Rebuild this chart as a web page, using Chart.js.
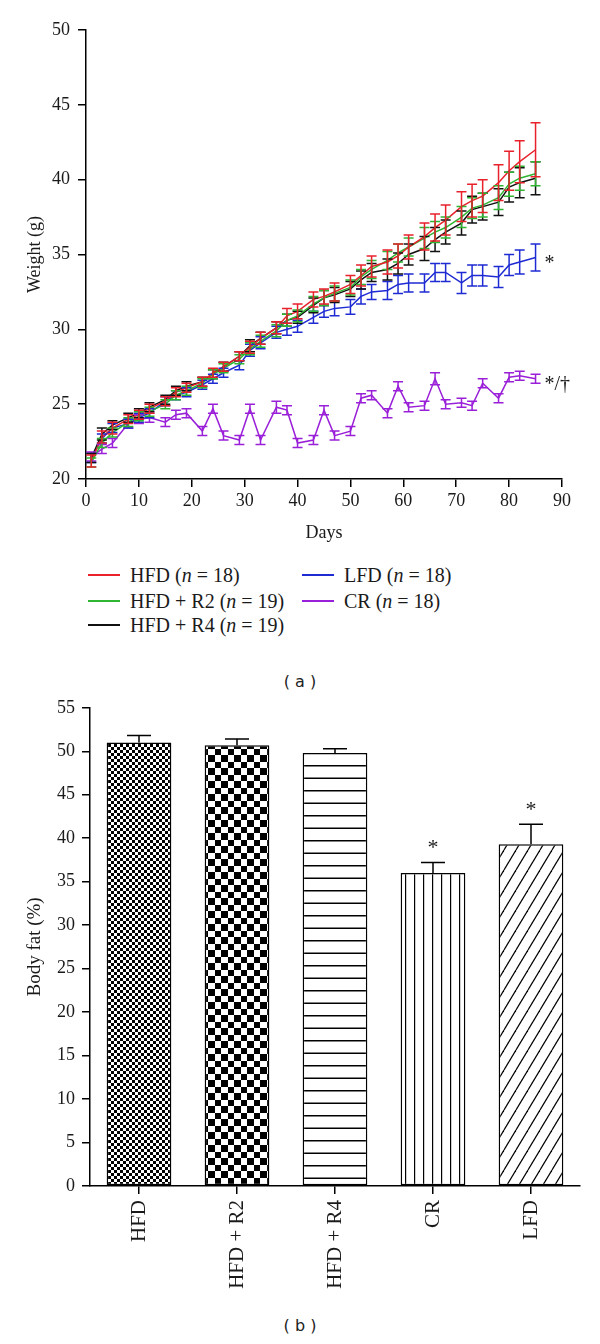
<!DOCTYPE html>
<html>
<head>
<meta charset="utf-8">
<script src="https://cdn.jsdelivr.net/npm/chart.js@4.4.1/dist/chart.umd.min.js"></script>
<style>
  body { margin: 0; background: #fff; }
  #page { position: relative; width: 600px; height: 1344px; overflow: hidden; }
  canvas { position: absolute; left: 0; }
  #weightChart { top: 0; }
  #fatChart { top: 690px; }
  .key { position: absolute; height: 24px; white-space: nowrap; font: 20px "Liberation Serif", serif; color: #1a1a1a; }
  .key .swatch { position: absolute; left: 0; top: 11px; width: 32px; height: 2px; }
  .key .lbl { position: absolute; left: 42px; top: 0; line-height: 24px; }
  .caption { position: absolute; left: 0; width: 600px; text-align: center; font: 16px "DejaVu Sans", sans-serif; color: #222; }
</style>
</head>
<body>
<div id="page">
  <canvas id="weightChart" width="600" height="560"></canvas>
  <div id="legend"></div>
  <div class="caption" style="top: 672px;">( a )</div>
  <canvas id="fatChart" width="600" height="620"></canvas>
  <div class="caption" style="top: 1316px;">( b )</div>
</div>
<script>
// (a) body weight over time
const days = [1, 3, 5, 8, 10, 12, 15, 17, 19, 22, 24, 26, 29, 31, 33, 36, 38, 40, 43, 45, 47,
              50, 52, 54, 57, 59, 61, 64, 66, 68, 71, 73, 75, 78, 80, 82, 85];

const hfd   = [21.2, 22.8, 23.4, 24.0, 24.3, 24.7, 25.2, 25.8, 26.1, 26.5, 27.1, 27.5, 28.2, 28.8, 29.4, 30.1, 30.9, 31.2, 32.0, 32.2, 32.5,
               33.0, 33.6, 34.2, 34.5, 34.9, 35.5, 36.2, 36.8, 37.3, 38.2, 38.6, 38.9, 39.8, 40.6, 41.2, 42.0];
const hfdR2 = [21.1, 22.4, 23.1, 23.8, 24.2, 24.5, 25.0, 25.6, 25.9, 26.4, 27.0, 27.4, 28.0, 28.7, 29.2, 29.9, 30.6, 30.9, 31.7, 32.1, 32.4,
               32.8, 33.5, 34.0, 34.6, 35.1, 35.5, 36.1, 36.5, 36.8, 37.5, 38.1, 38.3, 38.8, 39.7, 40.1, 40.4];
const hfdR4 = [21.4, 23.0, 23.6, 24.1, 24.4, 24.8, 25.3, 25.9, 26.2, 26.5, 27.0, 27.5, 28.2, 28.9, 29.4, 30.1, 30.6, 30.8, 31.6, 32.1, 32.3,
               32.7, 33.3, 33.8, 34.0, 34.4, 35.0, 35.4, 36.0, 36.5, 37.1, 38.0, 38.2, 38.5, 39.5, 39.8, 40.1];
const lfd   = [21.4, 22.7, 23.4, 23.7, 24.1, 24.4, 25.2, 25.6, 25.8, 26.3, 26.7, 27.1, 27.6, 28.6, 29.1, 29.8, 30.0, 30.2, 30.8, 31.2, 31.4,
               31.5, 32.2, 32.5, 32.6, 33.0, 33.1, 33.1, 33.8, 33.8, 33.1, 33.6, 33.6, 33.5, 34.3, 34.5, 34.8];
const cr    = [21.5, 22.0, 22.4, 23.7, 24.0, 24.1, 23.8, 24.3, 24.4, 23.2, 24.7, 22.9, 22.6, 24.7, 22.6, 24.8, 24.6, 22.4, 22.6, 24.6, 22.9,
               23.2, 25.4, 25.6, 24.4, 26.2, 24.8, 24.9, 26.7, 25.0, 25.1, 24.9, 26.4, 25.4, 26.8, 26.9, 26.7];

// SEM for each point
const hfdErr   = [0.4, 0.4, 0.4, 0.3, 0.3, 0.3, 0.3, 0.3, 0.3, 0.3, 0.3, 0.3, 0.3, 0.4, 0.4, 0.4, 0.5, 0.5, 0.5, 0.5, 0.6,
                  0.6, 0.7, 0.7, 0.8, 0.8, 0.8, 0.9, 0.9, 1.0, 1.0, 1.1, 1.1, 1.2, 1.3, 1.4, 1.8];
const hfdR2Err = [0.3, 0.3, 0.3, 0.3, 0.3, 0.3, 0.3, 0.3, 0.3, 0.3, 0.3, 0.3, 0.3, 0.4, 0.4, 0.4, 0.4, 0.4, 0.5, 0.5, 0.5,
                  0.5, 0.5, 0.6, 0.6, 0.6, 0.6, 0.7, 0.7, 0.7, 0.7, 0.7, 0.8, 0.8, 0.8, 0.8, 0.8];
const hfdR4Err = [0.3, 0.4, 0.3, 0.3, 0.3, 0.3, 0.3, 0.3, 0.3, 0.3, 0.3, 0.3, 0.3, 0.4, 0.4, 0.4, 0.4, 0.4, 0.5, 0.5, 0.5,
                  0.5, 0.6, 0.6, 0.7, 0.7, 0.7, 0.8, 0.8, 0.8, 0.8, 0.9, 0.9, 0.9, 1.0, 1.0, 1.1];
const lfdErr   = [0.3, 0.3, 0.3, 0.3, 0.3, 0.3, 0.3, 0.3, 0.3, 0.3, 0.3, 0.3, 0.3, 0.4, 0.4, 0.4, 0.4, 0.4, 0.4, 0.4, 0.5,
                  0.5, 0.5, 0.5, 0.6, 0.6, 0.6, 0.6, 0.6, 0.6, 0.7, 0.7, 0.7, 0.7, 0.7, 0.8, 0.9];
const crErr    = [0.3, 0.3, 0.3, 0.3, 0.3, 0.3, 0.3, 0.3, 0.3, 0.3, 0.3, 0.3, 0.3, 0.3, 0.3, 0.4, 0.3, 0.3, 0.3, 0.3, 0.3,
                  0.3, 0.3, 0.3, 0.3, 0.3, 0.3, 0.3, 0.4, 0.3, 0.3, 0.3, 0.3, 0.3, 0.3, 0.3, 0.3];

const seriesNames = ["HFD", "HFD + R2", "HFD + R4", "LFD", "CR"];
const seriesN = [18, 19, 19, 18, 18];
const seriesMarks = ["", "", "", "*", "*/\u2020"];
const dayTicks = [0, 10, 20, 30, 40, 50, 60, 70, 80, 90];
const weightTicks = [20, 25, 30, 35, 40, 45, 50];

// (b) body fat
const groups = ["HFD", "HFD + R2", "HFD + R4", "CR", "LFD"];
const bodyFat = [51.0, 50.7, 49.8, 36.0, 39.3];
const bodyFatErr = [0.8, 0.7, 0.5, 1.2, 2.3];
const bodyFatMarks = ["", "", "", "*", "*"];
const fatTicks = [0, 5, 10, 15, 20, 25, 30, 35, 40, 45, 50, 55];

const serif = "'Liberation Serif', 'Times New Roman', serif";
const ink = "#1a1a1a";
const lineColors = ["#e8212b", "#2fb532", "#111111", "#1e2bd3", "#9a1fd8"];
const allValues = [hfd, hfdR2, hfdR4, lfd, cr];
const allErrs = [hfdErr, hfdR2Err, hfdR4Err, lfdErr, crErr];

// legend for (a), two columns like the original
const legendSpots = [[88, 563], [88, 589], [88, 613], [302, 563], [302, 589]];
const legend = document.getElementById("legend");
seriesNames.forEach((name, i) => {
    const item = document.createElement("div");
    item.className = "key";
    item.style.left = legendSpots[i][0] + "px";
    item.style.top = legendSpots[i][1] + "px";
    item.innerHTML = `<span class="swatch" style="background-color:${lineColors[i]}"></span>` +
        `<span class="lbl">${name} (<i>n</i> = ${seriesN[i]})</span>`;
    legend.appendChild(item);
});

const weightErrors = {
    id: "weightErrors",
    afterDatasetsDraw(chart) {
        const { ctx, scales: { x, y } } = chart;
        ctx.save();
        ctx.lineWidth = 1.5;
        for (let i = chart.data.datasets.length - 1; i >= 0; i--) {
            const ds = chart.data.datasets[i];
            ctx.strokeStyle = ds.borderColor;
            ds.data.forEach((p, j) => {
                const px = x.getPixelForValue(p.x);
                const top = y.getPixelForValue(p.y + ds.err[j]);
                const bot = y.getPixelForValue(p.y - ds.err[j]);
                ctx.beginPath();
                ctx.moveTo(px, top); ctx.lineTo(px, bot);
                ctx.moveTo(px - 5, top); ctx.lineTo(px + 5, top);
                ctx.moveTo(px - 5, bot); ctx.lineTo(px + 5, bot);
                ctx.stroke();
            });
        }
        // significance marks next to the last point
        ctx.fillStyle = ink;
        ctx.font = "20px " + serif;
        ctx.textAlign = "left";
        ctx.textBaseline = "middle";
        chart.data.datasets.forEach((ds, i) => {
            if (!seriesMarks[i]) return;
            const last = ds.data[ds.data.length - 1];
            ctx.fillText(seriesMarks[i], x.getPixelForValue(last.x) + 9, y.getPixelForValue(last.y) + 6);
        });
        ctx.restore();
    }
};

new Chart(document.getElementById("weightChart"), {
    type: "line",
    data: {
        datasets: seriesNames.map((name, i) => ({
            label: name,
            data: days.map((d, j) => ({ x: d, y: allValues[i][j] })),
            err: allErrs[i],
            borderColor: lineColors[i],
            backgroundColor: lineColors[i],
            borderWidth: 1.5,
            pointRadius: 0,
            tension: 0,
            fill: false,
        })),
    },
    options: {
        responsive: false,
        animation: false,
        devicePixelRatio: 1,
        layout: { padding: { top: 30, right: 38, left: 0, bottom: 0 } },
        plugins: { legend: { display: false }, tooltip: { enabled: false } },
        scales: {
            x: {
                type: "linear",
                min: 0,
                max: 90,
                afterBuildTicks: (s) => { s.ticks = dayTicks.map((v) => ({ value: v })); },
                afterFit: (s) => { s.height = 81; },
                ticks: { color: ink, padding: 3, font: { family: serif, size: 18 } },
                grid: { drawOnChartArea: false, color: "#000", tickLength: 8, lineWidth: 1.5 },
                border: { color: "#000", width: 1.5 },
                title: { display: true, text: "Days", color: ink, font: { family: serif, size: 18 }, padding: { bottom: 16 } },
            },
            y: {
                min: 20,
                max: 50,
                afterBuildTicks: (s) => { s.ticks = weightTicks.map((v) => ({ value: v })); },
                afterFit: (s) => { s.width = 86; },
                ticks: { color: ink, padding: 8, font: { family: serif, size: 18 } },
                grid: { drawOnChartArea: false, color: "#000", tickLength: 8, lineWidth: 1.5 },
                border: { color: "#000", width: 1.5 },
                title: { display: true, text: "Weight (g)", color: ink, font: { family: serif, size: 18 }, padding: { top: 24 } },
            },
        },
    },
    plugins: [weightErrors],
});

// fill patterns for the bars
function makePattern(kind) {
    const c = document.createElement("canvas");
    const g = c.getContext("2d");
    if (kind === "fineChecker") {
        c.width = c.height = 6;
        g.fillStyle = "#fff"; g.fillRect(0, 0, 6, 6);
        g.fillStyle = "#000"; g.fillRect(0, 0, 3, 3); g.fillRect(3, 3, 3, 3);
    } else if (kind === "checker") {
        c.width = c.height = 13;
        g.fillStyle = "#fff"; g.fillRect(0, 0, 13, 13);
        g.fillStyle = "#000"; g.fillRect(0, 0, 7, 7); g.fillRect(7, 7, 6, 6);
    } else if (kind === "hlines") {
        c.width = 4; c.height = 25;
        g.fillStyle = "#fff"; g.fillRect(0, 0, 4, 25);
        g.fillStyle = "#000"; g.fillRect(0, 0, 4, 1.5); g.fillRect(0, 12.5, 4, 1.5);
    } else if (kind === "vlines") {
        c.width = 9; c.height = 4;
        g.fillStyle = "#fff"; g.fillRect(0, 0, 9, 4);
        g.fillStyle = "#000"; g.fillRect(0, 0, 1.2, 4);
    } else {
        const w = 12, h = 20;
        c.width = w; c.height = h;
        g.fillStyle = "#fff"; g.fillRect(0, 0, w, h);
        g.strokeStyle = "#000"; g.lineWidth = 1.2;
        [-w, 0, w].forEach((o) => {
            g.beginPath(); g.moveTo(o, h); g.lineTo(o + w, 0); g.stroke();
        });
    }
    const ctx = document.getElementById("fatChart").getContext("2d");
    return ctx.createPattern(c, "repeat");
}
const barFills = ["fineChecker", "checker", "hlines", "vlines", "diagonal"].map(makePattern);

const fatErrors = {
    id: "fatErrors",
    afterDatasetsDraw(chart) {
        const { ctx, scales: { x, y } } = chart;
        const ds = chart.data.datasets[0];
        ctx.save();
        ctx.strokeStyle = "#000";
        ctx.lineWidth = 1.5;
        ds.data.forEach((v, i) => {
            const px = x.getPixelForValue(i);
            const top = y.getPixelForValue(v + ds.err[i]);
            ctx.beginPath();
            ctx.moveTo(px, y.getPixelForValue(v)); ctx.lineTo(px, top);
            ctx.moveTo(px - 12, top); ctx.lineTo(px + 12, top);
            ctx.stroke();
            if (bodyFatMarks[i]) {
                ctx.fillStyle = ink;
                ctx.font = "22px " + serif;
                ctx.textAlign = "center";
                ctx.textBaseline = "middle";
                ctx.fillText(bodyFatMarks[i], px, top - 14);
            }
        });
        ctx.restore();
    }
};

new Chart(document.getElementById("fatChart"), {
    type: "bar",
    data: {
        labels: groups,
        datasets: [{
            data: bodyFat,
            err: bodyFatErr,
            backgroundColor: barFills,
            borderColor: "#000",
            borderWidth: 1.5,
            borderSkipped: false,
            barPercentage: 0.66,
            categoryPercentage: 1,
        }],
    },
    options: {
        responsive: false,
        animation: false,
        devicePixelRatio: 1,
        layout: { padding: { top: 10, right: 20, left: 0, bottom: 0 } },
        plugins: { legend: { display: false }, tooltip: { enabled: false } },
        scales: {
            x: {
                afterFit: (s) => { s.height = 124; },
                ticks: { color: ink, padding: 6, minRotation: 90, maxRotation: 90, font: { family: serif, size: 21 } },
                grid: { drawOnChartArea: false, offset: false, color: "#000", tickLength: 8, lineWidth: 1.5 },
                border: { color: "#000", width: 1.5 },
            },
            y: {
                min: 0,
                max: 55,
                afterBuildTicks: (s) => { s.ticks = fatTicks.map((v) => ({ value: v })); },
                afterFit: (s) => { s.width = 90; },
                ticks: { color: ink, padding: 7, font: { family: serif, size: 18 } },
                grid: { drawOnChartArea: false, color: "#000", tickLength: 8, lineWidth: 1.5 },
                border: { color: "#000", width: 1.5 },
                title: { display: true, text: "Body fat (%)", color: ink, font: { family: serif, size: 19 }, padding: { top: 24 } },
            },
        },
    },
    plugins: [fatErrors],
});
</script>
</body>
</html>
